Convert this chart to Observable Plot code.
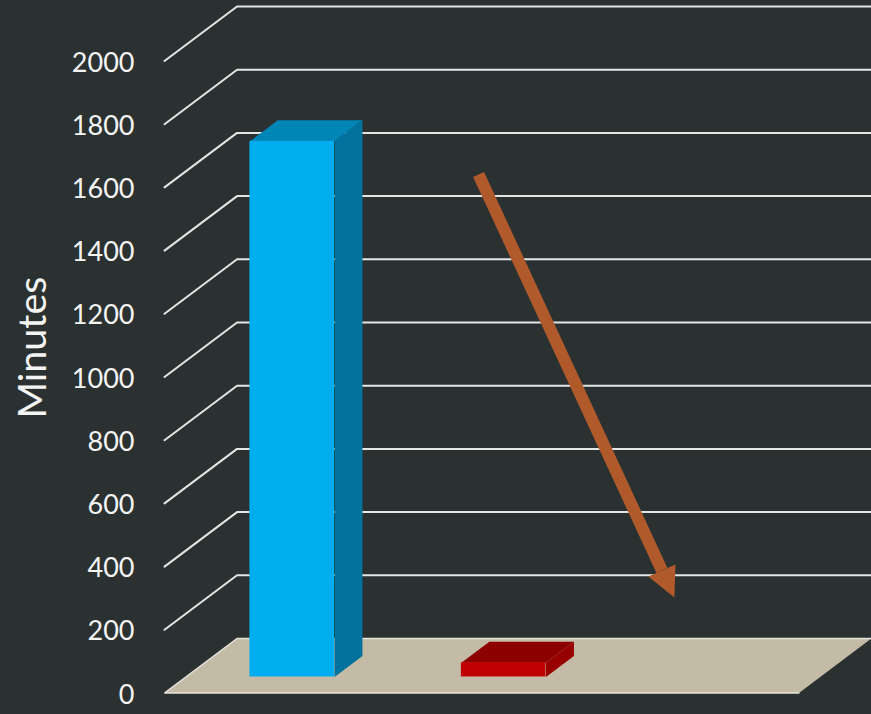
<!DOCTYPE html>
<html>
<head>
<meta charset="utf-8">
<script src="https://cdn.jsdelivr.net/npm/d3@7"></script>
<script src="https://cdn.jsdelivr.net/npm/@observablehq/plot@0.6"></script>
<style>
html,body{margin:0;padding:0;background:#2b3131;}
#chart svg{display:block;}
</style>
</head>
<body>
<div id="chart"></div>
<script>
// Data
const slots = [0.503, 1.503];        // category centres (third category is empty)
const minutes = [1695, 45];
const frontColors = ["#00aeef", "#c00000"];
const sideColors = ["#00729d", "#980000"];
const topColors = ["#0085b7", "#8c0000"];
const tickValues = [0, 200, 400, 600, 800, 1000, 1200, 1400, 1600, 1800, 2000];
const slotCount = 3;

// Arrow, in chart units (slot position, minutes)
const arrowShaftSlot = [1.485, 2.352];
const arrowShaftMinutes = [1641, 388];
const arrowHeadSlot = [2.288, 2.416, 2.411];
const arrowHeadMinutes = [369, 407, 302];

// Oblique projection of the 3D chart: depth 0 is the front, 1 the back wall
const depthSlot = 0.343;
const depthMinutes = 172.5;
const barHalfWidth = 0.2;
const barFront = 0.294;
const barBack = 0.679;

const px = (slot, depth) => slot + depth * depthSlot;
const py = (value, depth) => value + depth * depthMinutes;
const pt = (id, fill, slot, value, depth) => ({id, fill, x: px(slot, depth), y: py(value, depth)});

const floor = [
  pt("floor", "#c4bba7", 0, 0, 0),
  pt("floor", "#c4bba7", 0, 0, 1),
  pt("floor", "#c4bba7", slotCount, 0, 1),
  pt("floor", "#c4bba7", slotCount, 0, 0)
];
const floorEdge = [
  pt("edge", "", slotCount, 0, 1),
  pt("edge", "", 0, 0, 1),
  pt("edge", "", 0, 0, 0),
  pt("edge", "", slotCount, 0, 0)
];
const grid = tickValues.slice(1).flatMap((v) => [
  pt(v, "", 0, v, 0),
  pt(v, "", 0, v, 1),
  pt(v, "", slotCount, v, 1)
]);

const faces = slots.flatMap((s, i) => {
  const l = s - barHalfWidth, r = s + barHalfWidth, v = minutes[i];
  const side = "side" + i, top = "top" + i;
  return [
    pt(side, sideColors[i], r, 0, barFront),
    pt(side, sideColors[i], r, 0, barBack),
    pt(side, sideColors[i], r, v, barBack),
    pt(side, sideColors[i], r, v, barFront),
    pt(top, topColors[i], l, v, barFront),
    pt(top, topColors[i], l, v, barBack),
    pt(top, topColors[i], r, v, barBack),
    pt(top, topColors[i], r, v, barFront)
  ];
});
const fronts = slots.map((s, i) => ({
  x1: px(s - barHalfWidth, barFront),
  x2: px(s + barHalfWidth, barFront),
  y1: py(0, barFront),
  y2: py(minutes[i], barFront),
  fill: frontColors[i]
}));
const shaft = arrowShaftSlot.map((x, i) => ({x, y: arrowShaftMinutes[i]}));
const head = arrowHeadSlot.map((x, i) => ({x, y: arrowHeadMinutes[i]}));

const chart = Plot.plot({
  width: 871,
  height: 714,
  marginLeft: 164,
  marginRight: 0,
  marginTop: 0,
  marginBottom: 0,
  style: {background: "transparent", fontFamily: "Lato, sans-serif"},
  x: {domain: [0, slotCount + depthSlot], axis: null},
  y: {domain: [0, 2000], range: [692.5, 60.5], axis: null},
  color: {type: "identity"},
  marks: [
    Plot.line(floor, {x: "x", y: "y", z: "id", fill: "fill", stroke: "none", curve: "linear-closed"}),
    Plot.line(floorEdge, {x: "x", y: "y", z: "id", stroke: "#e6e4dc", strokeWidth: 1.5, strokeLinejoin: "miter"}),
    Plot.line(grid, {x: "x", y: "y", z: "id", stroke: "#e4e6e6", strokeWidth: 2, strokeLinejoin: "miter"}),
    Plot.line(faces, {x: "x", y: "y", z: "id", fill: "fill", stroke: "none", curve: "linear-closed"}),
    Plot.rect(fronts, {x1: "x1", x2: "x2", y1: "y1", y2: "y2", fill: "fill"}),
    Plot.line(shaft, {x: "x", y: "y", stroke: "#b05a2c", strokeWidth: 12, strokeLinecap: "butt"}),
    Plot.line(head, {x: "x", y: "y", fill: "#b05a2c", stroke: "none", curve: "linear-closed"}),
    Plot.axisY({
      anchor: "left",
      ticks: tickValues,
      tickSize: 0,
      tickPadding: 30,
      tickFormat: (d) => String(d),
      fontSize: 27,
      dy: 2,
      fill: "#f4f4f4",
      label: null
    }),
    Plot.text(["Minutes"], {
      frameAnchor: "left",
      y: [1093],
      dx: -131,
      rotate: -90,
      fontSize: 39.5,
      fill: "#f4f4f4",
      textAnchor: "middle"
    })
  ]
});
document.getElementById("chart").appendChild(chart);
</script>
</body>
</html>
